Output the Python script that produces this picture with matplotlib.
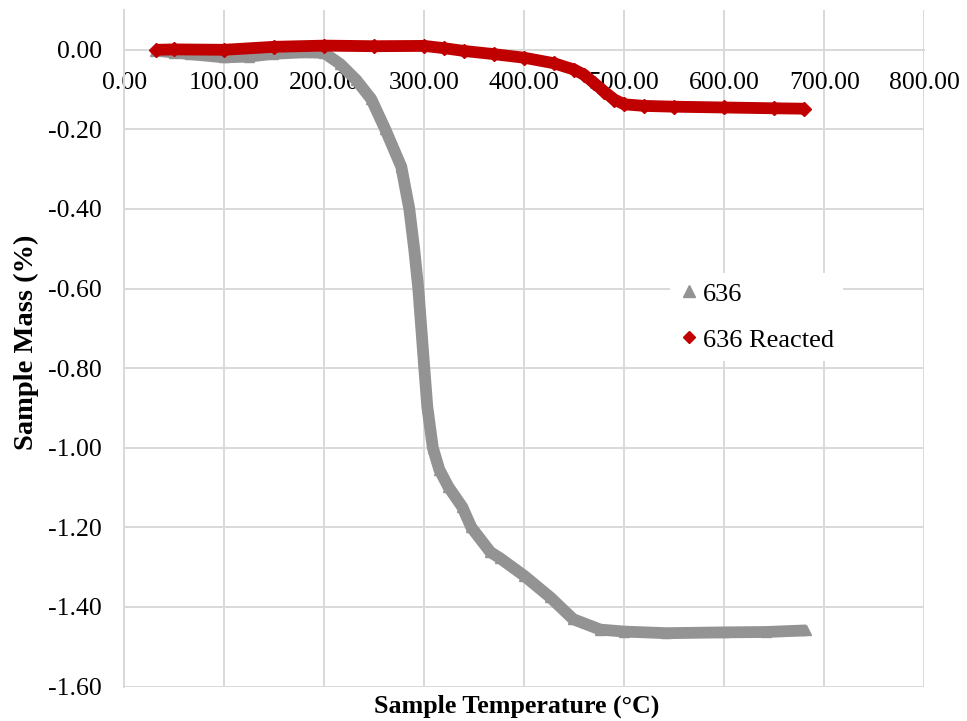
import matplotlib
matplotlib.use("Agg")
import matplotlib.pyplot as plt
from matplotlib.lines import Line2D
from matplotlib.ticker import FuncFormatter, MultipleLocator

# sample 636 (untreated)
temp_636 = [31, 50, 66, 100, 125, 149, 182, 200, 216, 232, 247, 261, 277, 285,
            290, 294, 297.4, 300, 303, 308.5, 315, 324, 338, 347, 366, 376, 400,
            426, 449, 476, 500, 542, 600, 642, 682]
mass_636 = [-0.002, -0.007, -0.011, -0.019, -0.017, -0.010, -0.006, -0.008, -0.036,
            -0.076, -0.124, -0.200, -0.294, -0.400, -0.503, -0.600, -0.713, -0.800,
            -0.897, -1.000, -1.055, -1.098, -1.149, -1.200, -1.262, -1.278, -1.322,
            -1.376, -1.431, -1.457, -1.462, -1.466, -1.464, -1.463, -1.459]

# sample 636 after reaction
temp_reacted = [32, 50, 100, 150, 200, 250, 300, 320, 340, 370, 400, 430, 450,
                460, 470, 480, 490, 500, 520, 550, 600, 650, 680]
mass_reacted = [0.000, 0.001, 0.000, 0.0075, 0.0105, 0.009, 0.0098, 0.004, -0.003,
                -0.011, -0.020, -0.034, -0.050, -0.063, -0.084, -0.105, -0.125,
                -0.137, -0.141, -0.143, -0.145, -0.147, -0.148]

series_labels = ["636", "636 Reacted"]
GRAY = "#939393"
RED = "#C00000"
GRID = "#d9d9d9"
FONT = "Liberation Serif"

fig = plt.figure(figsize=(9.67, 7.21), dpi=100)
ax = fig.add_axes([124.3 / 967, 1 - 686.5 / 721, 800 / 967, 676.5 / 721])

ax.plot(temp_636, mass_636, color=GRAY, lw=8.5, marker="^", ms=7,
        solid_capstyle="butt", solid_joinstyle="round", zorder=3)
ax.plot(temp_reacted, mass_reacted, color=RED, lw=8.5, marker="D", ms=7,
        solid_capstyle="butt", solid_joinstyle="round", zorder=4)

ax.set_xlim(0, 800)
ax.set_ylim(-1.6, 0.1)
ax.xaxis.set_major_locator(MultipleLocator(100))
ax.set_yticks([-1.6 + 0.2 * i for i in range(9)])
fmt = FuncFormatter(lambda v, p: f"{0.0 if abs(v) < 1e-9 else v:.2f}")
ax.xaxis.set_major_formatter(fmt)
ax.yaxis.set_major_formatter(fmt)

ax.grid(True, color=GRID, lw=1.4, zorder=0)
ax.set_axisbelow(True)
for side in ("top", "right"):
    ax.spines[side].set_visible(False)
ax.spines["bottom"].set_position(("data", 0))
ax.spines["bottom"].set_color(GRID)
ax.spines["left"].set_color(GRID)
ax.spines["bottom"].set_linewidth(1.4)
ax.spines["left"].set_linewidth(1.4)
ax.spines["bottom"].set_zorder(1)

ax.tick_params(axis="both", length=0, labelsize=18.5)
ax.tick_params(axis="x", pad=16)
ax.tick_params(axis="y", pad=16)
for lbl in ax.get_xticklabels() + ax.get_yticklabels():
    lbl.set_fontfamily(FONT)

fig.text(517 / 967, 1 - 706 / 721, "Sample Temperature (\u00b0C)", ha="center", va="center",
         fontsize=18.7, fontweight="bold", family=FONT)
fig.text(26 / 967, 1 - 342 / 721, "Sample Mass (%)", ha="center", va="center",
         rotation=90, fontsize=20.5, fontweight="bold", family=FONT)

handles = [Line2D([], [], color=GRAY, marker="^", ls="none", ms=8),
           Line2D([], [], color=RED, marker="D", ls="none", ms=6)]
leg = ax.legend(handles, series_labels, loc="upper left",
                bbox_to_anchor=(670 / 967, 1 - 273 / 721), bbox_transform=fig.transFigure,
                prop={"family": FONT, "size": 19}, frameon=True, fancybox=False,
                framealpha=1, edgecolor="none", facecolor="white",
                borderpad=0.35, handlelength=0.75, handletextpad=0.15,
                labelspacing=0.85, borderaxespad=0)
leg.set_zorder(5)

fig.savefig("out.png", dpi=100)
